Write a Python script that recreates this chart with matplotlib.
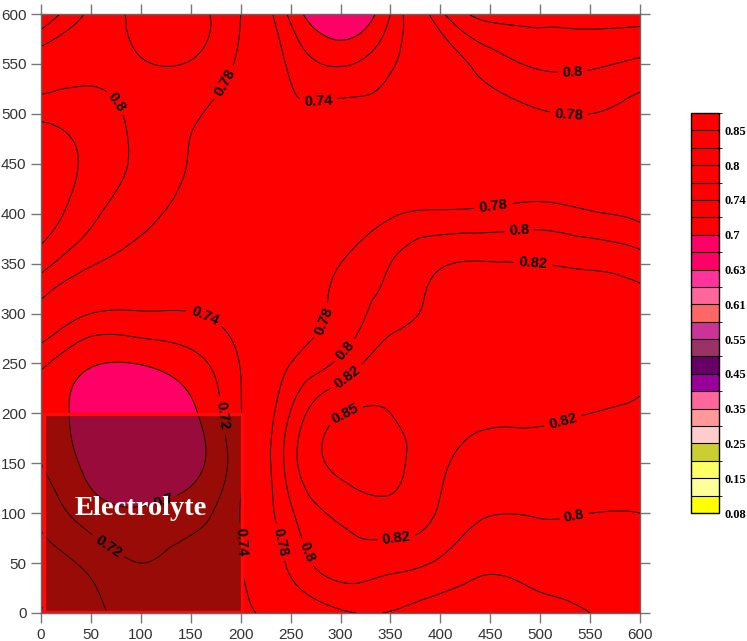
import numpy as np
import matplotlib
matplotlib.use('Agg')
import matplotlib as mpl
import matplotlib.pyplot as plt
import matplotlib.tri as mtri
from matplotlib.colors import ListedColormap, BoundaryNorm
from matplotlib.patches import Rectangle

# grid positions (same units as the axes)
x_pos = [0, 50, 100, 150, 200, 250, 300, 350, 400, 450, 500, 550, 600]
y_pos = [0, 50, 100, 150, 200, 250, 300, 350, 400, 450, 500, 550, 600]

# values, one row per y (bottom row first)
row_000 = [0.785, 0.750, 0.728, 0.730, 0.735, 0.757, 0.777, 0.779, 0.766, 0.768, 0.771, 0.780, 0.789]
row_050 = [0.752, 0.734, 0.720, 0.726, 0.739, 0.785, 0.808, 0.806, 0.797, 0.784, 0.790, 0.792, 0.795]
row_100 = [0.735, 0.710, 0.703, 0.712, 0.741, 0.797, 0.826, 0.838, 0.817, 0.801, 0.801, 0.800, 0.800]
row_150 = [0.720, 0.694, 0.680, 0.692, 0.736, 0.810, 0.860, 0.860, 0.825, 0.813, 0.812, 0.810, 0.810]
row_200 = [0.712, 0.690, 0.675, 0.695, 0.739, 0.801, 0.848, 0.850, 0.835, 0.824, 0.823, 0.820, 0.818]
row_250 = [0.724, 0.702, 0.701, 0.713, 0.741, 0.780, 0.805, 0.835, 0.835, 0.833, 0.830, 0.827, 0.823]
row_300 = [0.768, 0.740, 0.738, 0.739, 0.750, 0.765, 0.787, 0.810, 0.825, 0.830, 0.828, 0.826, 0.826]
row_350 = [0.807, 0.782, 0.770, 0.760, 0.755, 0.760, 0.780, 0.800, 0.818, 0.821, 0.820, 0.817, 0.810]
row_400 = [0.835, 0.805, 0.786, 0.772, 0.760, 0.755, 0.758, 0.777, 0.783, 0.785, 0.788, 0.782, 0.775]
row_450 = [0.832, 0.815, 0.795, 0.779, 0.765, 0.755, 0.755, 0.758, 0.765, 0.767, 0.768, 0.768, 0.768]
row_500 = [0.815, 0.808, 0.795, 0.783, 0.765, 0.745, 0.747, 0.750, 0.765, 0.772, 0.778, 0.780, 0.772]
row_550 = [0.790, 0.795, 0.799, 0.799, 0.775, 0.736, 0.718, 0.737, 0.764, 0.790, 0.803, 0.803, 0.796]
row_600 = [0.845, 0.797, 0.806, 0.805, 0.780, 0.715, 0.680, 0.720, 0.795, 0.827, 0.826, 0.827, 0.828]

# colour scale: class boundaries and their fill colours
levels = [0.08, 0.10, 0.15, 0.20, 0.25, 0.30, 0.35, 0.40, 0.45, 0.50, 0.55, 0.58,
          0.61, 0.62, 0.63, 0.65, 0.70, 0.72, 0.74, 0.78, 0.80, 0.82, 0.85, 0.88]
level_colors = ['#FFFF00', '#FFFF99', '#FFFF66', '#CCCC33', '#FFCCCC', '#FF9999',
                '#FF6699', '#990099', '#660066', '#993366', '#CC3399', '#FF6666',
                '#FF6699', '#FF3399', '#FF0066', '#FF0066', '#FF0000', '#FF0000',
                '#FF0000', '#FF0000', '#FF0000', '#FF0000', '#FF0000']
line_levels = [0.70, 0.72, 0.74, 0.78, 0.80, 0.82, 0.85]
cbar_labels = [0.08, 0.15, 0.25, 0.35, 0.45, 0.55, 0.61, 0.63, 0.70, 0.74, 0.80, 0.85]

# where the inline labels sit
label_spots = [(82, 516), (181, 533), (277, 521), (532, 545), (529, 502),
               (453, 407), (479, 379), (493, 353), (162, 293), (277, 295),
               (304, 263), (301, 243), (184, 198), (311, 185), (524, 188),
               (122, 115), (66, 65), (195, 71), (240, 71), (271, 63),
               (356, 75), (534, 97)]

z = np.array([row_000, row_050, row_100, row_150, row_200, row_250, row_300,
              row_350, row_400, row_450, row_500, row_550, row_600])
X, Y = np.meshgrid(x_pos, y_pos)
tri = mtri.Triangulation(X.ravel(), Y.ravel())
tri_f, z_f = mtri.UniformTriRefiner(tri).refine_field(z.ravel(), subdiv=4)

fig = plt.figure(figsize=(7.47, 6.41), dpi=100)
ax = fig.add_axes([41 / 747, 28 / 641, 599 / 747, 599 / 641])

ax.tricontourf(tri_f, z_f, levels=levels, colors=level_colors)
cs = ax.tricontour(tri_f, z_f, levels=line_levels, colors='black', linewidths=0.7)
labels = ax.clabel(cs, fmt=lambda v: f'{v:g}', manual=label_spots,
                   inline=True, inline_spacing=3, fontsize=10.5)
for t in labels:
    t.set_fontweight('bold')
    t.set_fontfamily('Liberation Sans')
    t.set_zorder(4)

# electrolyte block
ax.add_patch(Rectangle((3, 1), 198, 198, facecolor=(0.2, 0.09, 0.06, 0.5),
                       edgecolor='#FF0A0A', linewidth=2.4, zorder=3))
ax.text(100, 105, 'Electrolyte', color='white', fontsize=20.5, fontweight='bold',
        family='Liberation Serif', ha='center', va='center', zorder=5)

ax.set_xlim(0, 600)
ax.set_ylim(0, 600)
ax.set_xticks(range(0, 601, 50))
ax.set_yticks(range(0, 601, 50))
ax.tick_params(direction='out', length=7, width=1, color='#777777',
               labelsize=11, labelcolor='#333333', top=True, right=True)
for lab in ax.get_xticklabels() + ax.get_yticklabels():
    lab.set_fontfamily('Liberation Sans')
for sp in ax.spines.values():
    sp.set_color('#666666')
    sp.set_linewidth(1)

# colour bar
cax = fig.add_axes([691 / 747, 128 / 641, 28 / 747, 400 / 641])
cb = mpl.colorbar.ColorbarBase(cax, cmap=ListedColormap(level_colors),
                               norm=BoundaryNorm(levels, len(level_colors)),
                               boundaries=levels, spacing='uniform',
                               ticks=cbar_labels, drawedges=True)
cb.outline.set_linewidth(1)
cb.dividers.set_color('black')
cb.dividers.set_linewidth(0.8)
cax.set_yticklabels([f'{v:g}' for v in cbar_labels], fontfamily='Liberation Serif',
                    fontweight='bold', fontsize=9)
cax.tick_params(length=0, pad=4)

fig.savefig('out.png', dpi=100)
